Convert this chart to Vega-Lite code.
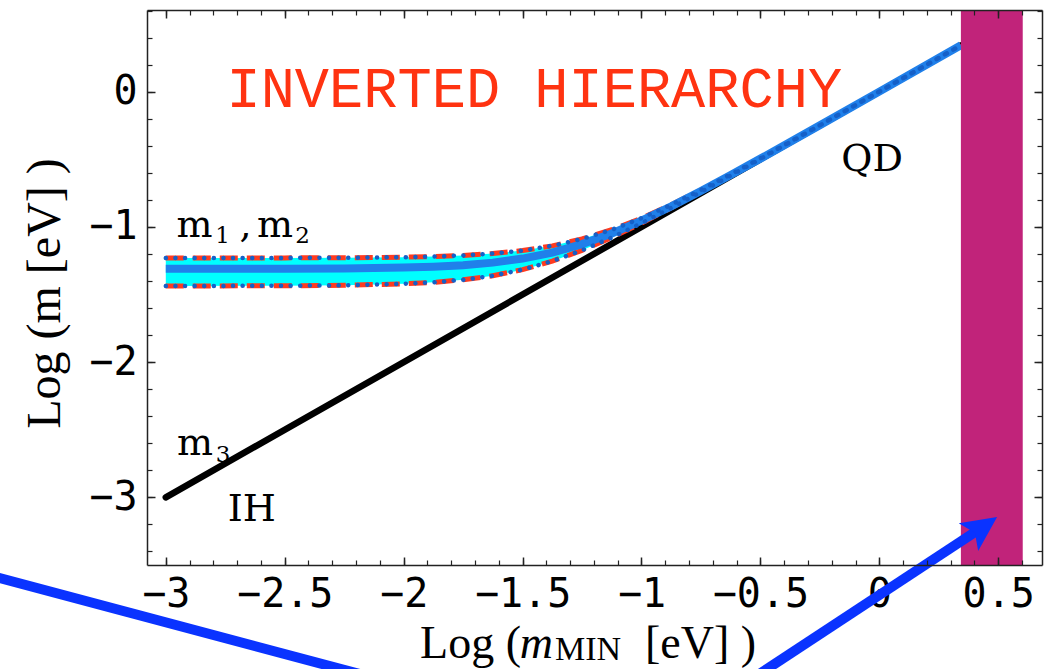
{
  "$schema": "https://vega.github.io/schema/vega-lite/v6.json",
  "autosize": "none",
  "width": 895,
  "height": 555,
  "padding": {"left": 147, "top": 10, "right": 9, "bottom": 104},
  "background": "white",
  "config": {"view": {"stroke": null}, "axis": {"grid": false}},
  "datasets": {
    "band": [
      {"x": -3, "center": -1.310, "upper": -1.230, "lower": -1.437},
      {"x": -2.5, "center": -1.309, "upper": -1.229, "lower": -1.435},
      {"x": -2.25, "center": -1.307, "upper": -1.228, "lower": -1.432},
      {"x": -2, "center": -1.301, "upper": -1.224, "lower": -1.421},
      {"x": -1.875, "center": -1.294, "upper": -1.219, "lower": -1.410},
      {"x": -1.75, "center": -1.283, "upper": -1.211, "lower": -1.391},
      {"x": -1.625, "center": -1.264, "upper": -1.197, "lower": -1.361},
      {"x": -1.5, "center": -1.234, "upper": -1.175, "lower": -1.316},
      {"x": -1.375, "center": -1.190, "upper": -1.140, "lower": -1.253},
      {"x": -1.25, "center": -1.127, "upper": -1.089, "lower": -1.173},
      {"x": -1.125, "center": -1.048, "upper": -1.021, "lower": -1.079},
      {"x": -1, "center": -0.953, "upper": -0.935, "lower": -0.973},
      {"x": -0.875, "center": -0.848, "upper": -0.836, "lower": -0.859},
      {"x": -0.75, "center": -0.734, "upper": -0.727, "lower": -0.741},
      {"x": -0.625, "center": -0.616, "upper": -0.612, "lower": -0.620},
      {"x": -0.5, "center": -0.495, "upper": -0.493, "lower": -0.497},
      {"x": -0.25, "center": -0.248, "upper": -0.248, "lower": -0.249},
      {"x": 0, "center": 0.0005, "upper": 0.0008, "lower": 0.0003},
      {"x": 0.343, "center": 0.343, "upper": 0.343, "lower": 0.343}
    ],
    "m3": [
      {"x": -3, "y": -3},
      {"x": 0.343, "y": 0.343}
    ],
    "region": [{"x0": 0.343, "x1": 0.603}],
    "title": [{"x": -2.745, "y": -0.114, "text": "INVERTED HIERARCHY"}],
    "labels": [
      {"x": -2.955, "y": -1.075, "text": "m"},
      {"x": -2.690, "y": -1.075, "text": ","},
      {"x": -2.616, "y": -1.075, "text": "m"},
      {"x": -0.160, "y": -0.587, "text": "QD"},
      {"x": -2.953, "y": -2.687, "text": "m"},
      {"x": -2.740, "y": -3.175, "text": "IH"}
    ],
    "subs": [
      {"x": -2.792, "y": -1.119, "text": "1"},
      {"x": -2.456, "y": -1.119, "text": "2"},
      {"x": -2.790, "y": -2.739, "text": "3"}
    ],
    "xtitle": [
      {"x": -1.931, "y": -4.189, "text": "Log ("},
      {"x": -0.985, "y": -4.189, "text": "[eV] )"}
    ],
    "xtitle_m": [{"x": -1.512, "y": -4.189, "text": "m"}],
    "xtitle_sub": [{"x": -1.364, "y": -4.205, "text": "MIN"}],
    "arrows": [
      {"arrow": "a", "order": 1, "x": -3.780, "y": -3.558},
      {"arrow": "a", "order": 2, "x": -1.931, "y": -4.425},
      {"arrow": "b", "order": 1, "x": -0.607, "y": -4.425},
      {"arrow": "b", "order": 2, "x": 0.402, "y": -3.257}
    ],
    "heads": [{"x": 0.435, "y": -3.220}]
  },
  "resolve": {"axis": {"x": "independent", "y": "independent"}},
  "layer": [
    {
      "data": {"name": "m3"},
      "mark": {"type": "point", "opacity": 0},
      "encoding": {
        "x": {"field": "x", "type": "quantitative",
          "scale": {"domain": [-3.079, 0.684], "nice": false, "zero": false},
          "axis": {"orient": "bottom", "values": [-3, -2.5, -2, -1.5, -1, -0.5, 0, 0.5], "format": "~g", "ticks": false, "domain": false,
            "labelFont": "DejaVu Sans Mono", "labelFontSize": 40, "labelColor": "black", "labelPadding": 9,
            "labelFlush": false, "labelOverlap": false, "zindex": 0, "title": null}},
        "y": {"field": "y", "type": "quantitative",
          "scale": {"domain": [-3.5, 0.604], "nice": false, "zero": false},
          "axis": {"orient": "left", "values": [-3, -2, -1, 0], "format": "~g", "ticks": false, "domain": false,
            "labelFont": "DejaVu Sans Mono", "labelFontSize": 40, "labelColor": "black", "labelPadding": 10,
            "labelFlush": false, "labelOverlap": false, "zindex": 0,
            "title": "Log (m [eV] )", "titleFont": "Liberation Serif", "titleFontSize": 48, "titleFontWeight": "normal",
            "titleColor": "black", "titleX": -102, "titleY": 283, "titleAngle": -90, "titleBaseline": "middle", "titleAlign": "center"}}
      }
    },
    {
      "data": {"name": "m3"},
      "mark": {"type": "point", "opacity": 0},
      "encoding": {
        "x": {"field": "x", "type": "quantitative",
          "axis": {"orient": "bottom", "values": [-3, -2.5, -2, -1.5, -1, -0.5, 0, 0.5], "labels": false, "domain": true,
            "domainColor": "#222", "domainWidth": 1.5, "tickColor": "#222", "tickWidth": 1.5, "tickSize": -8, "title": null, "zindex": 1}},
        "y": {"field": "y", "type": "quantitative",
          "axis": {"orient": "left", "values": [-3, -2, -1, 0], "labels": false, "domain": true,
            "domainColor": "#222", "domainWidth": 1.5, "tickColor": "#222", "tickWidth": 1.5, "tickSize": -8, "title": null, "zindex": 1}}
      }
    },
    {
      "data": {"name": "m3"},
      "mark": {"type": "point", "opacity": 0},
      "encoding": {
        "x": {"field": "x", "type": "quantitative",
          "axis": {"orient": "bottom", "values": [-3, -2.9, -2.8, -2.7, -2.6, -2.5, -2.4, -2.3, -2.2, -2.1, -2, -1.9, -1.8, -1.7, -1.6, -1.5, -1.4, -1.3, -1.2, -1.1, -1, -0.9, -0.8, -0.7, -0.6, -0.5, -0.4, -0.3, -0.2, -0.1, 0, 0.1, 0.2, 0.3, 0.4, 0.5, 0.6],
            "labels": false, "domain": false, "tickColor": "#222", "tickWidth": 1.2, "tickSize": -5, "title": null, "zindex": 1}},
        "y": {"field": "y", "type": "quantitative",
          "axis": {"orient": "left", "values": [-3.4, -3.2, -3, -2.8, -2.6, -2.4, -2.2, -2, -1.8, -1.6, -1.4, -1.2, -1, -0.8, -0.6, -0.4, -0.2, 0, 0.2, 0.4, 0.6],
            "labels": false, "domain": false, "tickColor": "#222", "tickWidth": 1.2, "tickSize": -5, "title": null, "zindex": 1}}
      }
    },
    {
      "data": {"name": "m3"},
      "mark": {"type": "point", "opacity": 0},
      "encoding": {
        "x": {"field": "x", "type": "quantitative",
          "axis": {"orient": "top", "values": [-3, -2.5, -2, -1.5, -1, -0.5, 0, 0.5], "labels": false, "domain": true,
            "domainColor": "#222", "domainWidth": 1.5, "tickColor": "#222", "tickWidth": 1.5, "tickSize": -8, "title": null, "zindex": 1}},
        "y": {"field": "y", "type": "quantitative",
          "axis": {"orient": "right", "values": [-3, -2, -1, 0], "labels": false, "domain": true,
            "domainColor": "#222", "domainWidth": 1.5, "tickColor": "#222", "tickWidth": 1.5, "tickSize": -8, "title": null, "zindex": 1}}
      }
    },
    {
      "data": {"name": "m3"},
      "mark": {"type": "point", "opacity": 0},
      "encoding": {
        "x": {"field": "x", "type": "quantitative",
          "axis": {"orient": "top", "values": [-3, -2.9, -2.8, -2.7, -2.6, -2.5, -2.4, -2.3, -2.2, -2.1, -2, -1.9, -1.8, -1.7, -1.6, -1.5, -1.4, -1.3, -1.2, -1.1, -1, -0.9, -0.8, -0.7, -0.6, -0.5, -0.4, -0.3, -0.2, -0.1, 0, 0.1, 0.2, 0.3, 0.4, 0.5, 0.6],
            "labels": false, "domain": false, "tickColor": "#222", "tickWidth": 1.2, "tickSize": -5, "title": null, "zindex": 1}},
        "y": {"field": "y", "type": "quantitative",
          "axis": {"orient": "right", "values": [-3.4, -3.2, -3, -2.8, -2.6, -2.4, -2.2, -2, -1.8, -1.6, -1.4, -1.2, -1, -0.8, -0.6, -0.4, -0.2, 0, 0.2, 0.4, 0.6],
            "labels": false, "domain": false, "tickColor": "#222", "tickWidth": 1.2, "tickSize": -5, "title": null, "zindex": 1}}
      }
    },
    {
      "data": {"name": "m3"},
      "mark": {"type": "line", "color": "black", "strokeWidth": 6.5, "strokeCap": "round"},
      "encoding": {
        "x": {"field": "x", "type": "quantitative", "axis": null},
        "y": {"field": "y", "type": "quantitative", "axis": null}
      }
    },
    {
      "data": {"name": "band"},
      "mark": {"type": "area", "color": "#00ffff", "opacity": 1},
      "encoding": {
        "x": {"field": "x", "type": "quantitative", "axis": null},
        "y": {"field": "upper", "type": "quantitative", "axis": null},
        "y2": {"field": "lower"}
      }
    },
    {
      "data": {"name": "band"},
      "mark": {"type": "line", "color": "#ff3b1f", "strokeWidth": 5, "strokeDash": [18, 9]},
      "encoding": {
        "x": {"field": "x", "type": "quantitative", "axis": null},
        "y": {"field": "upper", "type": "quantitative", "axis": null}
      }
    },
    {
      "data": {"name": "band"},
      "mark": {"type": "line", "color": "#ff3b1f", "strokeWidth": 5, "strokeDash": [18, 9]},
      "encoding": {
        "x": {"field": "x", "type": "quantitative", "axis": null},
        "y": {"field": "lower", "type": "quantitative", "axis": null}
      }
    },
    {
      "data": {"name": "band"},
      "mark": {"type": "line", "color": "#2080ea", "strokeWidth": 8},
      "encoding": {
        "x": {"field": "x", "type": "quantitative", "axis": null},
        "y": {"field": "center", "type": "quantitative", "axis": null}
      }
    },
    {
      "data": {"name": "band"},
      "mark": {"type": "line", "color": "#1560c8", "strokeWidth": 4.5, "strokeDash": [0.1, 9.5], "strokeCap": "round"},
      "encoding": {
        "x": {"field": "x", "type": "quantitative", "axis": null},
        "y": {"field": "upper", "type": "quantitative", "axis": null}
      }
    },
    {
      "data": {"name": "band"},
      "mark": {"type": "line", "color": "#1560c8", "strokeWidth": 4.5, "strokeDash": [0.1, 9.5], "strokeCap": "round"},
      "encoding": {
        "x": {"field": "x", "type": "quantitative", "axis": null},
        "y": {"field": "lower", "type": "quantitative", "axis": null}
      }
    },
    {
      "data": {"name": "region"},
      "mark": {"type": "rect", "color": "#c1237a", "opacity": 1},
      "encoding": {
        "x": {"field": "x0", "type": "quantitative", "axis": null},
        "x2": {"field": "x1"}
      }
    },
    {
      "data": {"name": "title"},
      "mark": {"type": "text", "font": "Liberation Mono", "fontSize": 57, "color": "#ff3311", "align": "left", "baseline": "alphabetic"},
      "encoding": {
        "x": {"field": "x", "type": "quantitative", "axis": null},
        "y": {"field": "y", "type": "quantitative", "axis": null},
        "text": {"field": "text"}
      }
    },
    {
      "data": {"name": "labels"},
      "mark": {"type": "text", "font": "DejaVu Serif", "fontSize": 38, "color": "black", "align": "left", "baseline": "alphabetic"},
      "encoding": {
        "x": {"field": "x", "type": "quantitative", "axis": null},
        "y": {"field": "y", "type": "quantitative", "axis": null},
        "text": {"field": "text"}
      }
    },
    {
      "data": {"name": "subs"},
      "mark": {"type": "text", "font": "DejaVu Serif", "fontSize": 23, "color": "black", "align": "left", "baseline": "alphabetic"},
      "encoding": {
        "x": {"field": "x", "type": "quantitative", "axis": null},
        "y": {"field": "y", "type": "quantitative", "axis": null},
        "text": {"field": "text"}
      }
    },
    {
      "data": {"name": "xtitle"},
      "mark": {"type": "text", "font": "Liberation Serif", "fontSize": 46, "color": "black", "align": "left", "baseline": "alphabetic"},
      "encoding": {
        "x": {"field": "x", "type": "quantitative", "axis": null},
        "y": {"field": "y", "type": "quantitative", "axis": null},
        "text": {"field": "text"}
      }
    },
    {
      "data": {"name": "xtitle_m"},
      "mark": {"type": "text", "font": "Liberation Serif", "fontStyle": "italic", "fontSize": 46, "color": "black", "align": "left", "baseline": "alphabetic"},
      "encoding": {
        "x": {"field": "x", "type": "quantitative", "axis": null},
        "y": {"field": "y", "type": "quantitative", "axis": null},
        "text": {"field": "text"}
      }
    },
    {
      "data": {"name": "xtitle_sub"},
      "mark": {"type": "text", "font": "Liberation Serif", "fontSize": 34, "color": "black", "align": "left", "baseline": "alphabetic"},
      "encoding": {
        "x": {"field": "x", "type": "quantitative", "axis": null},
        "y": {"field": "y", "type": "quantitative", "axis": null},
        "text": {"field": "text"}
      }
    },
    {
      "data": {"name": "arrows"},
      "mark": {"type": "line", "color": "#0a33ff", "strokeWidth": 10, "clip": false},
      "encoding": {
        "x": {"field": "x", "type": "quantitative", "axis": null},
        "y": {"field": "y", "type": "quantitative", "axis": null},
        "detail": {"field": "arrow"},
        "order": {"field": "order"}
      }
    },
    {
      "data": {"name": "heads"},
      "mark": {"type": "point", "shape": "M0,-1L0.97,1L0,0.55L-0.97,1Z", "filled": true, "color": "#0a33ff", "opacity": 1, "size": 1225, "angle": 55},
      "encoding": {
        "x": {"field": "x", "type": "quantitative", "axis": null},
        "y": {"field": "y", "type": "quantitative", "axis": null}
      }
    }
  ]
}
